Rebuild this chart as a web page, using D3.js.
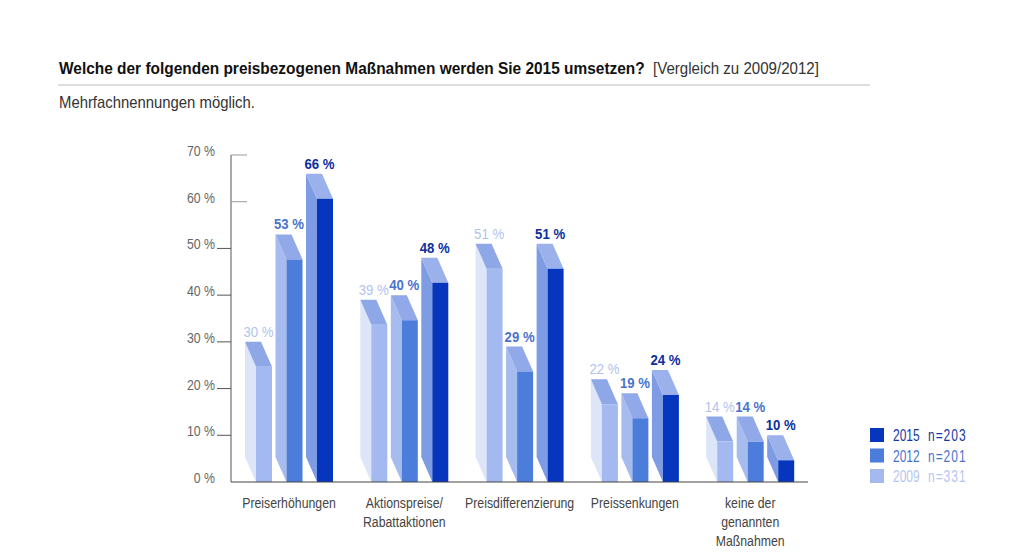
<!DOCTYPE html>
<html>
<head>
<meta charset="utf-8">
<script src="https://cdn.jsdelivr.net/npm/d3@7"></script>
<style>
  body { margin: 0; background: #fff; }
  svg { font-family: "Liberation Sans", Arial, sans-serif; }
</style>
</head>
<body>
<svg width="1030" height="558"></svg>
<script>
const categories = [
  ["Preiserhöhungen"],
  ["Aktionspreise/", "Rabattaktionen"],
  ["Preisdifferenzierung"],
  ["Preissenkungen"],
  ["keine der", "genannten", "Maßnahmen"],
];
const years = ["2009", "2012", "2015"];
const sampleSizes = ["n=331", "n=201", "n=203"];
const values2009 = [30, 39, 51, 22, 14];
const values2012 = [53, 40, 29, 19, 14];
const values2015 = [66, 48, 51, 24, 10];
const yTicks = [0, 10, 20, 30, 40, 50, 60, 70];

const colors = {
  "2009": { front: "#a3b9ef", side: "#dde5f8", top: "#8da7e7", label: "#b1c3ee", legend: "#b6c6ef", weight: "normal" },
  "2012": { front: "#4d7ddb", side: "#a6bbee", top: "#91a9e9", label: "#4b73cc", legend: "#4b73cc", weight: "bold" },
  "2015": { front: "#0636bd", side: "#7e9ce3", top: "#9ab1ec", label: "#0b2f9e", legend: "#15389f", weight: "bold" },
};

const series = years.map((y, i) => ({
  year: y,
  values: [values2009, values2012, values2015][i],
}));

const svg = d3.select("svg");
const K = 0.85; // horizontal squeeze, the original uses a condensed face

// move x/y into a transform and squeeze the glyphs
function condense(sel, k) {
  sel.each(function () {
    const t = d3.select(this);
    const x = +t.attr("x") || 0, yy = +t.attr("y") || 0;
    t.attr("x", 0).attr("y", 0)
      .attr("transform", `translate(${x},${yy}) scale(${k},1)`);
  });
}
function fitWidth(sel, width) {
  const len = sel.node().getComputedTextLength();
  condense(sel, width / len);
}

// title block
fitWidth(svg.append("text")
  .attr("x", 59).attr("y", 74)
  .attr("font-size", 16).attr("font-weight", "bold").attr("fill", "#111")
  .text("Welche der folgenden preisbezogenen Maßnahmen werden Sie 2015 umsetzen?"), 586);
fitWidth(svg.append("text")
  .attr("x", 653).attr("y", 74)
  .attr("font-size", 16).attr("fill", "#333")
  .text("[Vergleich zu 2009/2012]"), 166);
svg.append("line")
  .attr("x1", 58).attr("x2", 870).attr("y1", 85).attr("y2", 85)
  .attr("stroke", "#bdbdbd").attr("stroke-width", 1.2);
fitWidth(svg.append("text")
  .attr("x", 59).attr("y", 108)
  .attr("font-size", 16).attr("fill", "#333")
  .text("Mehrfachnennungen möglich."), 196);

// scales
const baseY = 482;
const y = d3.scaleLinear().domain([0, 70]).range([baseY, 155]);
const x0 = d3.scaleBand().domain(d3.range(categories.length)).range([241, 241 + 5 * 115.3]);
const x1 = d3.scaleBand().domain(years).range([15, 106.5]);
const w = 16, dx = 11, dy = 25;
const axisX = 231;

// y axis
const gy = svg.append("g");
gy.append("line")
  .attr("x1", axisX).attr("x2", axisX).attr("y1", y(70)).attr("y2", baseY)
  .attr("stroke", "#555").attr("stroke-width", 1);
gy.selectAll(".tick")
  .data(yTicks.filter((d) => d > 0))
  .join("line")
  .attr("x1", (d) => (d >= 60 ? axisX : axisX - 14))
  .attr("x2", (d) => (d >= 60 ? axisX + 16 : axisX))
  .attr("y1", (d) => y(d)).attr("y2", (d) => y(d))
  .attr("stroke", (d) => (d >= 60 ? "#999" : "#555"))
  .attr("stroke-width", 1);
condense(gy.selectAll(".lbl")
  .data(yTicks)
  .join("text")
  .attr("x", 215)
  .attr("y", (d) => y(d) + 1)
  .attr("text-anchor", "end")
  .attr("font-size", 14.5).attr("fill", "#666")
  .text((d) => d + " %"), K);

// bars
const groups = svg.append("g").selectAll("g")
  .data(series)
  .join("g");

function bars(cls, pathFn, key) {
  groups.selectAll("." + cls)
    .data((s) => s.values.map((v, i) => ({ year: s.year, v: v, i: i })))
    .join("path")
    .attr("class", cls)
    .attr("d", pathFn)
    .attr("fill", (d) => colors[d.year][key]);
}

const fx = (d) => x0(d.i) + x1(d.year);

bars("side", (d) => {
  const xf = fx(d), yt = y(d.v);
  return `M${xf - dx},${yt}L${xf},${yt + dy}L${xf},${baseY}L${xf - dx},${baseY - dy}Z`;
}, "side");
bars("top", (d) => {
  const xf = fx(d), yt = y(d.v);
  return `M${xf - dx},${yt}L${xf - dx + w},${yt}L${xf + w},${yt + dy}L${xf},${yt + dy}Z`;
}, "top");
bars("front", (d) => {
  const xf = fx(d), yt = y(d.v) + dy;
  return `M${xf},${yt}L${xf + w},${yt}L${xf + w},${baseY}L${xf},${baseY}Z`;
}, "front");

condense(groups.selectAll(".val")
  .data((s) => s.values.map((v, i) => ({ year: s.year, v: v, i: i })))
  .join("text")
  .attr("class", "val")
  .attr("x", (d) => fx(d) + (w - dx) / 2)
  .attr("y", (d) => y(d.v) - 5)
  .attr("text-anchor", "middle")
  .attr("font-size", 15.5)
  .attr("font-weight", (d) => colors[d.year].weight)
  .attr("fill", (d) => colors[d.year].label)
  .text((d) => d.v + " %"), K);

// baseline
svg.append("line")
  .attr("x1", axisX).attr("x2", 808).attr("y1", baseY).attr("y2", baseY)
  .attr("stroke", "#444").attr("stroke-width", 1.2);

// category labels, one text per line
const catLines = categories.flatMap((lines, i) =>
  lines.map((t, j) => ({ t: t, i: i, j: j })));
condense(svg.append("g").selectAll("text")
  .data(catLines)
  .join("text")
  .attr("x", (d) => x0(d.i) + 48)
  .attr("y", (d) => 508 + d.j * 19)
  .attr("text-anchor", "middle")
  .attr("font-size", 15).attr("fill", "#444")
  .text((d) => d.t), 0.82);

// legend
const legend = svg.append("g").selectAll("g")
  .data(series.slice().reverse())
  .join("g")
  .attr("transform", (d, i) => `translate(870, ${428 + i * 20.5})`);
legend.append("rect")
  .attr("width", 14).attr("height", 14)
  .attr("fill", (d) => colors[d.year].front);
condense(legend.append("text")
  .attr("x", 23).attr("y", 13)
  .attr("font-size", 16).attr("fill", (d) => colors[d.year].legend)
  .text((d) => d.year), 0.75);
condense(legend.append("text")
  .attr("x", 58).attr("y", 13)
  .attr("font-size", 16).attr("letter-spacing", 1.3)
  .attr("fill", (d) => colors[d.year].legend)
  .text((d) => sampleSizes[years.indexOf(d.year)]), 0.75);
</script>
</body>
</html>
